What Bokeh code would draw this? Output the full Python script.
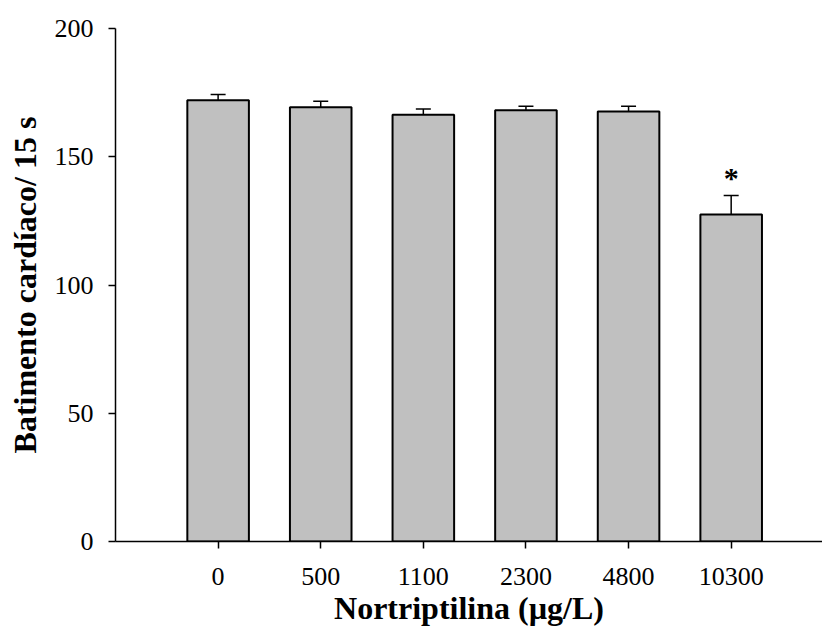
from bokeh.plotting import figure
from bokeh.models import (Range1d, FixedTicker, Whisker, TeeHead, ColumnDataSource)
from bokeh.core.properties import value
from bokeh.embed import file_html
from bokeh.resources import INLINE

# Data
categories = ["0", "500", "1100", "2300", "4800", "10300"]
means = [172.0, 169.3, 166.4, 168.1, 167.6, 127.5]
errors = [2.3, 2.3, 2.2, 1.6, 2.1, 7.4]
significant = ["", "", "", "", "", "*"]
y_ticks = [0, 50, 100, 150, 200]

xpos = list(range(1, len(categories) + 1))
upper = [m + e for m, e in zip(means, errors)]

FONT = "Liberation Serif"

p = figure(width=822, height=637, output_backend="svg", toolbar_location=None,
           x_range=Range1d(0, 6.89), y_range=Range1d(0, 200),
           min_border_left=115, min_border_right=0, min_border_top=28,
           min_border_bottom=96)
p.outline_line_color = None
p.xgrid.grid_line_color = None
p.ygrid.grid_line_color = None
p.background_fill_color = "white"
p.border_fill_color = "white"

src = ColumnDataSource(dict(x=xpos, top=means, upper=upper, lab=categories))
p.vbar(x="x", top="top", width=0.6, source=src, fill_color="#c0c0c0",
       line_color="black", line_width=2)

w = Whisker(base="x", lower="top", upper="upper", source=src, dimension="height",
            line_color="black", line_width=1.5,
            upper_head=TeeHead(size=15, line_color="black", line_width=1.5),
            lower_head=None)
p.add_layout(w)

sig_src = ColumnDataSource(dict(x=xpos, y=[u + 7 for u in upper], t=significant))
p.text(x="x", y="y", text="t", source=sig_src, text_align="center",
       text_baseline="middle", text_font=value(FONT), text_font_size="30px",
       text_font_style="bold", text_color="black")

for ax in (p.xaxis[0], p.yaxis[0]):
    ax.axis_line_color = "black"
    ax.axis_line_width = 1.5
    ax.major_tick_line_color = "black"
    ax.major_tick_line_width = 1.5
    ax.major_tick_out = 7
    ax.major_tick_in = 0
    ax.minor_tick_line_color = None
    ax.major_label_text_font = FONT
    ax.major_label_text_font_size = "26px"
    ax.major_label_text_color = "black"
    ax.axis_label_text_font = FONT
    ax.axis_label_text_font_size = "32px"
    ax.axis_label_text_font_style = "bold"
    ax.axis_label_text_color = "black"

p.xaxis.ticker = FixedTicker(ticks=xpos)
p.xaxis.major_label_overrides = {x: c for x, c in zip(xpos, categories)}
p.xaxis.major_label_standoff = 19
p.xaxis.axis_label = "Nortriptilina (µg/L)"
p.xaxis.axis_label_standoff = 2

p.yaxis.ticker = FixedTicker(ticks=y_ticks)
p.yaxis.major_label_standoff = 15
p.yaxis.axis_label = "Batimento cardíaco/ 15 s"
p.yaxis.axis_label_standoff = 9

open("out.html", "w").write(file_html(p, INLINE))
